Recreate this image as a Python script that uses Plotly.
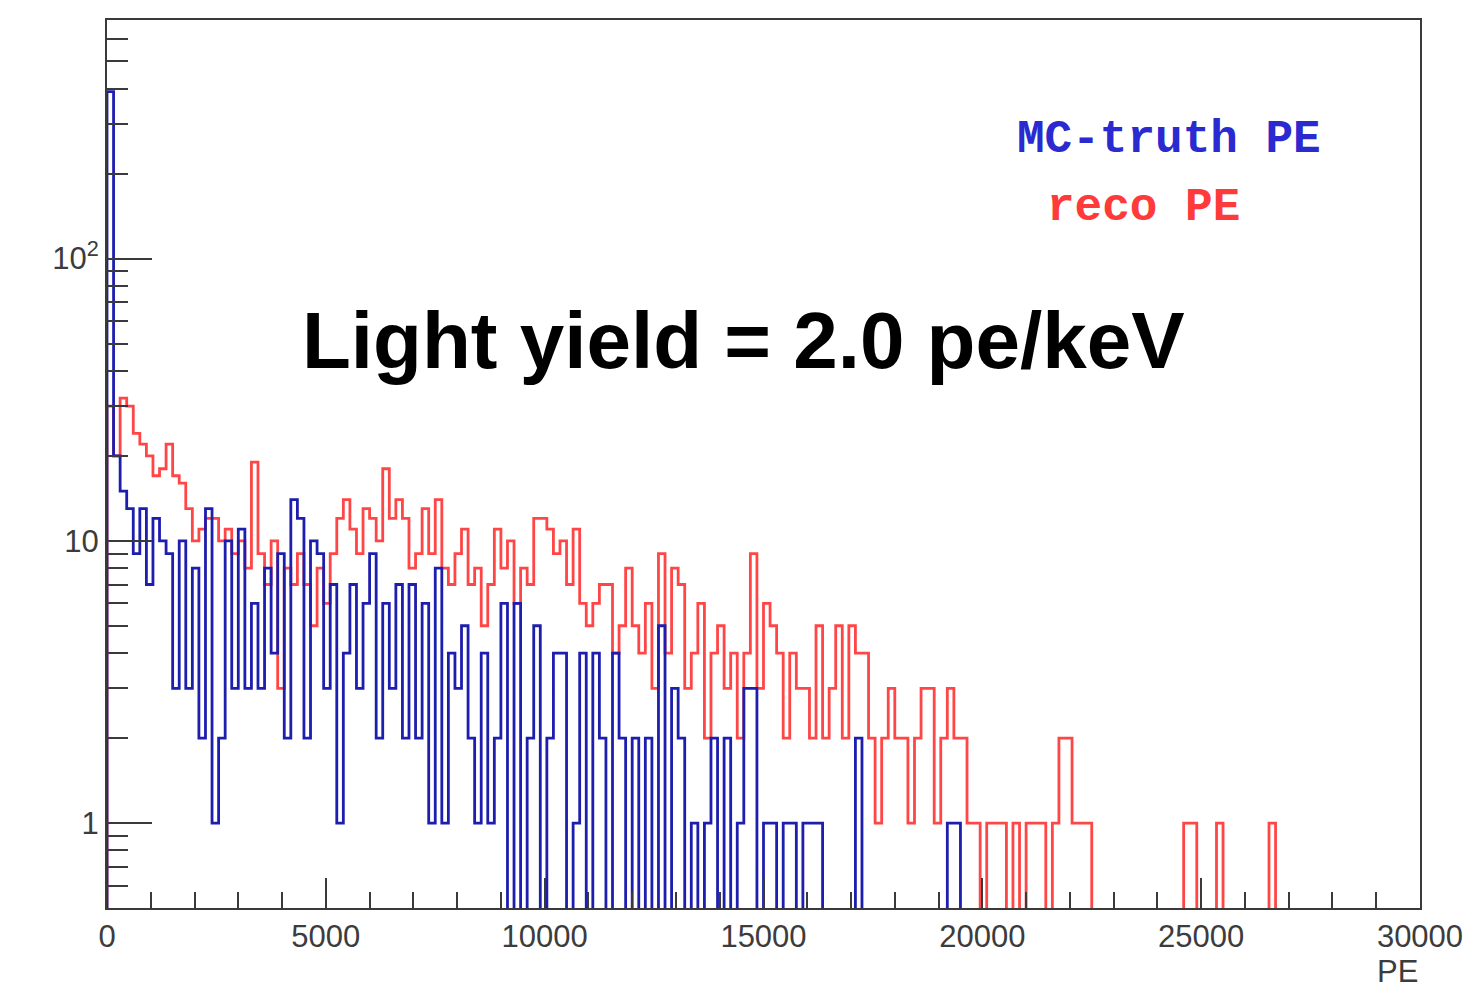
import numpy as np
import plotly.graph_objects as go

# Histogram binning: 200 bins of 150 PE over 0-30000 PE
x_min, x_max, n_bins = 0, 30000, 200

# reco PE counts per bin
reco_pe = [
    30, 20, 32, 30, 24, 22, 20, 17, 18, 22,
    17, 16, 13, 10, 11, 12, 12, 10, 11, 9,
    10, 8, 19, 9, 7, 10, 3, 8, 7, 9,
    7, 5, 8, 6, 9, 12, 14, 11, 9, 13,
    12, 10, 18, 12, 14, 12, 8, 9, 13, 9,
    14, 8, 7, 9, 11, 7, 8, 5, 7, 11,
    8, 10, 6, 8, 7, 12, 12, 11, 9, 10,
    7, 11, 6, 5, 6, 7, 7, 4, 5, 8,
    5, 4, 6, 3, 9, 4, 8, 7, 3, 4,
    6, 2, 4, 5, 3, 4, 2, 4, 9, 3,
    6, 5, 4, 2, 4, 3, 3, 2, 5, 2,
    3, 5, 2, 5, 4, 4, 2, 1, 2, 3,
    2, 2, 1, 2, 3, 3, 1, 2, 3, 2,
    2, 1, 1, 0, 1, 1, 1, 0, 1, 0,
    1, 1, 1, 0, 1, 2, 2, 1, 1, 1,
    0, 0, 0, 0, 0, 0, 0, 0, 0, 0,
    0, 0, 0, 0, 1, 1, 0, 0, 0, 1,
    0, 0, 0, 0, 0, 0, 0, 1, 0, 0,
    0, 0, 0, 0, 0, 0, 0, 0, 0, 0,
    0, 0, 0, 0, 0, 0, 0, 0, 0, 0,
]

# MC-truth PE counts per bin
truth_pe = [
    390, 20, 15, 13, 9, 13, 7, 12, 10, 9,
    3, 10, 3, 8, 2, 13, 1, 2, 10, 3,
    11, 3, 6, 3, 8, 4, 9, 2, 14, 12,
    2, 10, 9, 3, 7, 1, 4, 7, 3, 6,
    9, 2, 6, 3, 7, 2, 7, 2, 6, 1,
    8, 1, 4, 3, 5, 2, 1, 4, 1, 2,
    6, 0, 6, 0, 2, 5, 0, 2, 4, 4,
    0, 1, 4, 0, 4, 2, 0, 4, 2, 0,
    2, 0, 2, 0, 5, 0, 3, 2, 0, 1,
    0, 1, 2, 0, 2, 0, 1, 3, 3, 0,
    1, 1, 0, 1, 1, 0, 1, 1, 1, 0,
    0, 0, 0, 0, 2, 0, 0, 0, 0, 0,
    0, 0, 0, 0, 0, 0, 0, 0, 1, 1,
    0, 0, 0, 0, 0, 0, 0, 0, 0, 0,
    0, 0, 0, 0, 0, 0, 0, 0, 0, 0,
    0, 0, 0, 0, 0, 0, 0, 0, 0, 0,
    0, 0, 0, 0, 0, 0, 0, 0, 0, 0,
    0, 0, 0, 0, 0, 0, 0, 0, 0, 0,
    0, 0, 0, 0, 0, 0, 0, 0, 0, 0,
    0, 0, 0, 0, 0, 0, 0, 0, 0, 0,
]

x_tick_vals = [0, 5000, 10000, 15000, 20000, 25000, 30000]
x_tick_text = ["0", "5000", "10000", "15000", "20000", "25000", "30000"]
y_tick_vals = [1, 10, 100]
y_tick_text = ["1", "10", "10<sup>2</sup>"]
y_minor_vals = [0.5, 0.6, 0.7, 0.8, 0.9,
                2, 3, 4, 5, 6, 7, 8, 9,
                20, 30, 40, 50, 60, 70, 80, 90,
                200, 300, 400, 500, 600, 700]

Y_LO, Y_HI = 0.5, 700.0
FLOOR = 0.05  # empty bins drop below the frame on the log axis


def step_outline(counts):
    """Outline of a histogram (ROOT style) as x/y points for an 'hv' line."""
    counts = np.asarray(counts, dtype=float)
    edges = np.linspace(x_min, x_max, n_bins + 1)
    vals = np.where(counts > 0, counts, FLOOR)
    xs = np.concatenate([[edges[0]], edges[:-1], [edges[-1]]])
    ys = np.concatenate([[FLOOR], vals, [FLOOR]])
    return xs, ys


fig = go.Figure()

xr, yr = step_outline(reco_pe)
fig.add_trace(go.Scatter(x=xr, y=yr, mode="lines", line_shape="hv",
                         line=dict(color="#ff4646", width=2.8),
                         name="reco PE", showlegend=False))

xt, yt = step_outline(truth_pe)
fig.add_trace(go.Scatter(x=xt, y=yt, mode="lines", line_shape="hv",
                         line=dict(color="#1e1eae", width=2.8),
                         name="MC-truth PE", showlegend=False))

axis_col = "#3a3a3a"
tick_font = dict(family="Liberation Sans, Arial, Helvetica, sans-serif",
                 size=31, color="#3c3c3c")

fig.update_xaxes(
    range=[x_min, x_max],
    showline=True, mirror=True, linecolor=axis_col, linewidth=2,
    showgrid=False, zeroline=False,
    ticks="inside", ticklen=30, tickwidth=1.6, tickcolor=axis_col,
    tickmode="array", tickvals=x_tick_vals, ticktext=x_tick_text,
    tickfont=tick_font,
    minor=dict(ticks="inside", dtick=1000, tick0=0, ticklen=16,
               tickwidth=1.6, tickcolor=axis_col, showgrid=False),
)

fig.update_yaxes(
    type="log",
    range=[np.log10(Y_LO), np.log10(Y_HI)],
    showline=True, mirror=True, linecolor=axis_col, linewidth=2,
    showgrid=False, zeroline=False,
    ticks="inside", ticklen=45, tickwidth=1.6, tickcolor=axis_col,
    tickmode="array", tickvals=y_tick_vals, ticktext=y_tick_text,
    tickfont=tick_font,
    minor=dict(ticks="inside", tickmode="array", tickvals=y_minor_vals,
               ticklen=21, tickwidth=1.6, tickcolor=axis_col, showgrid=False),
)

annotations = [
    dict(text="PE", xref="paper", yref="paper", x=1.0, y=-0.072,
         xanchor="right", yanchor="middle", showarrow=False,
         font=tick_font),
    dict(text="<b>MC-truth PE</b>", xref="paper", yref="paper",
         x=0.6915, y=0.8649, xanchor="left", yanchor="middle",
         showarrow=False,
         font=dict(family="Courier New, Liberation Mono, monospace",
                   size=46, color="#2a2ad0")),
    dict(text="<b>reco PE</b>", xref="paper", yref="paper",
         x=0.7144, y=0.7883, xanchor="left", yanchor="middle",
         showarrow=False,
         font=dict(family="Courier New, Liberation Mono, monospace",
                   size=46, color="#ff3a3a")),
    dict(text="<b>Light yield = 2.0 pe/keV</b>", xref="paper", yref="paper",
         x=0.485, y=0.6396, xanchor="center", yanchor="middle",
         showarrow=False,
         font=dict(family="Liberation Sans, Arial, Helvetica, sans-serif",
                   size=80, color="#000000")),
]

fig.update_layout(
    width=1476, height=991,
    margin=dict(l=107, r=56, t=20, b=83, pad=0),
    paper_bgcolor="white", plot_bgcolor="white",
    annotations=annotations,
    showlegend=False,
)

fig.write_html("out.html")
